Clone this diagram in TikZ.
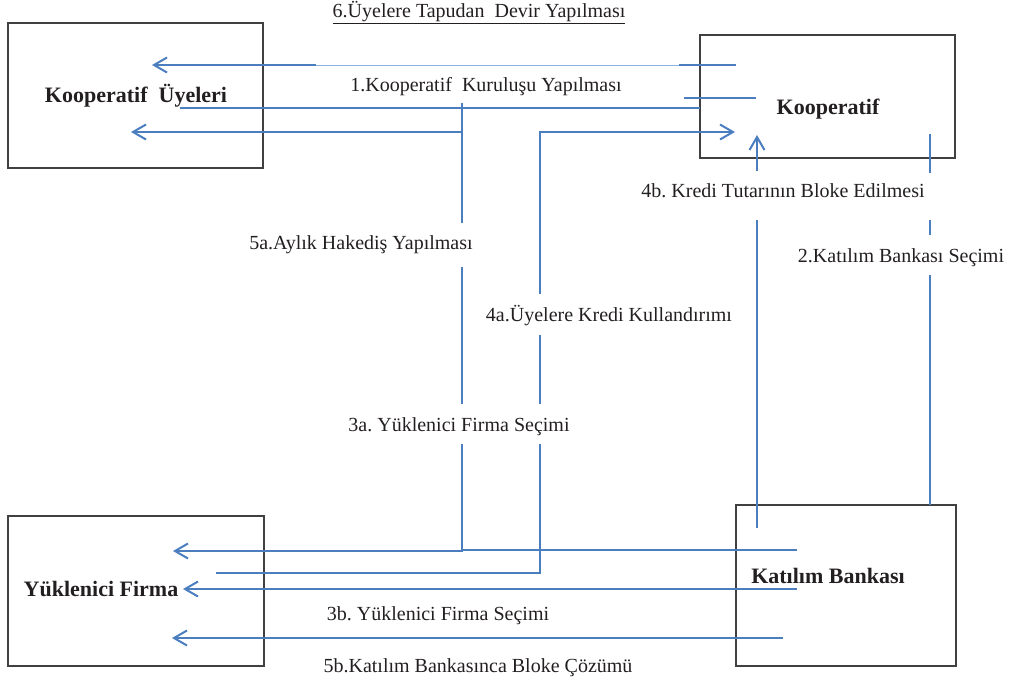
\documentclass[tikz,border=0pt]{standalone}
\usepackage{fontspec}
\setmainfont{Liberation Serif}
\usetikzlibrary{arrows.meta}
\definecolor{flowblue}{RGB}{74,126,190}
\definecolor{flowpale}{RGB}{141,179,226}
\definecolor{ink}{RGB}{35,31,32}
\definecolor{framegray}{RGB}{64,64,64}
\frenchspacing
\tikzset{
  entity/.style={draw=framegray, line width=1.3pt, inner sep=0pt},
  entitytext/.style={text=ink, inner sep=0pt, anchor=base, font=\fontsize{22}{26}\selectfont\bfseries},
  steplabel/.style={text=ink, inner sep=0pt, anchor=base, font=\fontsize{20}{24}\selectfont},
  flowline/.style={draw=flowblue, line width=2pt},
  flowthin/.style={draw=flowpale, line width=1pt},
  tip/.style={-{Straight Barb[length=13pt,width=15pt]}}
}
\begin{document}
\begin{tikzpicture}[x=1pt,y=-1pt]
\useasboundingbox (0,0) rectangle (1016,681);

% the four parties
\node[entity, minimum width=255pt, minimum height=145pt] (uye) at (135.5,95.5) {};
\node[entity, minimum width=255pt, minimum height=123pt] (koop) at (827.5,96.5) {};
\node[entity, minimum width=256pt, minimum height=150pt] (firma) at (136,591) {};
\node[entity, minimum width=220pt, minimum height=161pt] (banka) at (846,585.5) {};

\node[entitytext] (uyeT) at (136,102) {Kooperatif\ \ Üyeleri};
\node[entitytext] (koopT) at (828,114) {Kooperatif};
\node[entitytext] (firmaT) at (101,596) {Yüklenici Firma};
\node[entitytext] (bankaT) at (828,583) {Katılım Bankası};

% step labels
\node[steplabel] (l6) at (479,17) {\underline{6.Üyelere Tapudan\ \ Devir Yapılması}};
\node[steplabel] (l1) at (486,91) {1.Kooperatif\ \ Kuruluşu Yapılması};
\node[steplabel] (l4b) at (783,197) {4b. Kredi Tutarının Bloke Edilmesi};
\node[steplabel] (l5a) at (361,249) {5a.Aylık Hakediş Yapılması};
\node[steplabel] (l2) at (901,262) {2.Katılım Bankası Seçimi};
\node[steplabel] (l4a) at (609,321) {4a.Üyelere Kredi Kullandırımı};
\node[steplabel] (l3a) at (459,431) {3a. Yüklenici Firma Seçimi};
\node[steplabel] (l3b) at (438,620) {3b. Yüklenici Firma Seçimi};
\node[steplabel] (l5b) at (478,672) {5b.Katılım Bankasınca Bloke Çözümü};

% end and bend points of the flows
\coordinate (s6a) at (736,65);  \coordinate (s6b) at (679,65);
\coordinate (s6c) at (316,65);  \coordinate (s6d) at (152,65);
\coordinate (s1a) at (180,108); \coordinate (s1b) at (700,108);
\coordinate (s1c) at (684,98);  \coordinate (s1d) at (756,98);
\coordinate (s5top) at (462,103); \coordinate (s5g1) at (462,223);
\coordinate (s5g2) at (462,267);  \coordinate (s5g3) at (462,404);
\coordinate (s5g4) at (462,444);  \coordinate (s5bend) at (462,551);
\coordinate (s5firma) at (173,551);
\coordinate (s5knee) at (462,132); \coordinate (s5uye) at (131,132);
\coordinate (s3bank) at (797,550); \coordinate (s3join) at (462,550);
\coordinate (s4start) at (216,573); \coordinate (s4bend) at (540,573);
\coordinate (s4g1) at (540,444); \coordinate (s4g2) at (540,404);
\coordinate (s4g3) at (540,335); \coordinate (s4g4) at (540,294);
\coordinate (s4knee) at (540,132); \coordinate (s4koop) at (735,132);
\coordinate (s4ba) at (757,528); \coordinate (s4bb) at (757,220);
\coordinate (s4bc) at (757,171); \coordinate (s4bd) at (757,135);
\coordinate (s2a) at (930,505); \coordinate (s2b) at (930,275);
\coordinate (s2c) at (930,235); \coordinate (s2d) at (930,220);
\coordinate (s2e) at (930,173); \coordinate (s2f) at (930,134);
\coordinate (s3ba) at (797,589); \coordinate (s3bb) at (183,589);
\coordinate (s5ba) at (783,638); \coordinate (s5bb) at (172,638);

% 6: title deeds handed to the members
\draw[flowthin] (s6b) -- (s6c);
\draw[flowline] (s6a) -- (s6b);
\draw[flowline, tip] (s6c) -- (s6d);

% 1: founding of the cooperative
\draw[flowline] (s1a) -- (s1b);
\draw[flowline] (s1c) -- (s1d);

% 5a / 3a: monthly progress payment and contractor choice
\draw[flowline] (s5top) -- (s5g1);
\draw[flowline] (s5g2) -- (s5g3);
\draw[flowline, tip] (s5g4) -- (s5bend) -- (s5firma);
\draw[flowline, tip] (s5knee) -- (s5uye);
\draw[flowline] (s3bank) -- (s3join);

% 4a: loans extended to the members
\draw[flowline] (s4start) -- (s4bend) -- (s4g1);
\draw[flowline] (s4g2) -- (s4g3);
\draw[flowline, tip] (s4g4) -- (s4knee) -- (s4koop);

% 4b: credit amount blocked
\draw[flowline] (s4ba) -- (s4bb);
\draw[flowline, tip] (s4bc) -- (s4bd);

% 2: choice of the participation bank
\draw[flowline] (s2a) -- (s2b);
\draw[flowline] (s2c) -- (s2d);
\draw[flowline] (s2e) -- (s2f);

% 3b and 5b
\draw[flowline, tip] (s3ba) -- (s3bb);
\draw[flowline, tip] (s5ba) -- (s5bb);
\end{tikzpicture}
\end{document}
